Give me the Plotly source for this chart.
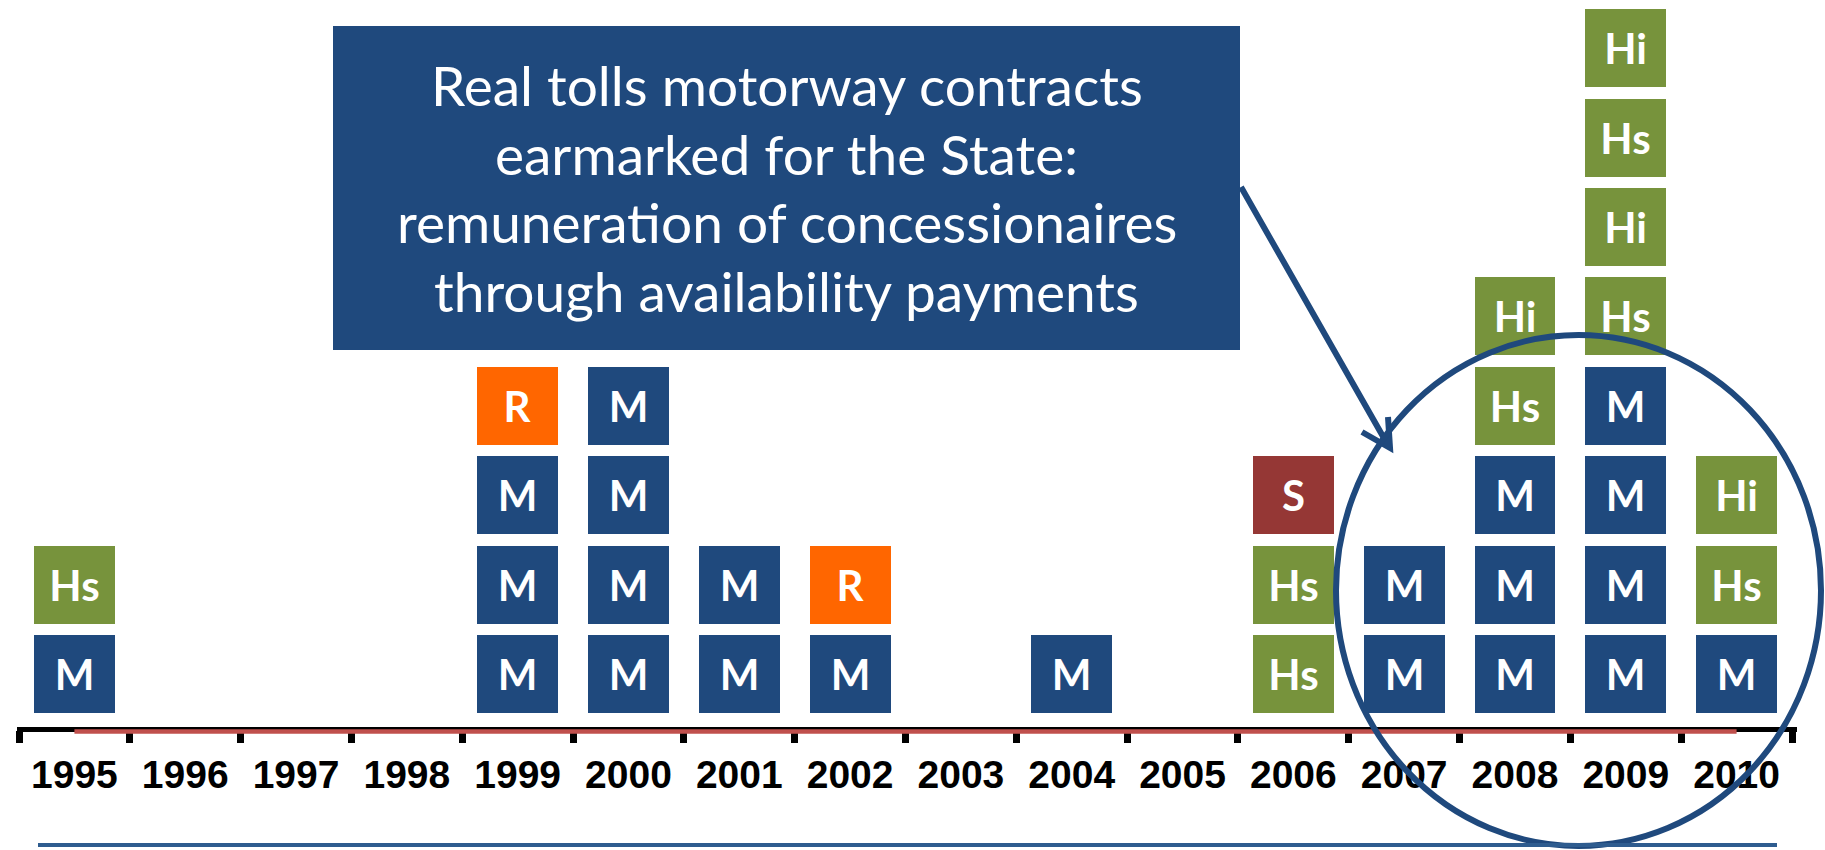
import plotly.graph_objects as go

# ---------------- data ----------------
years = ["1995", "1996", "1997", "1998", "1999", "2000", "2001", "2002",
         "2003", "2004", "2005", "2006", "2007", "2008", "2009", "2010"]

# contracts awarded each year, listed from the bottom of the stack upwards
stack_labels = [
    ["M", "Hs"],                                  # 1995
    [],                                           # 1996
    [],                                           # 1997
    [],                                           # 1998
    ["M", "M", "M", "R"],                         # 1999
    ["M", "M", "M", "M"],                         # 2000
    ["M", "M"],                                   # 2001
    ["M", "R"],                                   # 2002
    [],                                           # 2003
    ["M"],                                        # 2004
    [],                                           # 2005
    ["Hs", "Hs", "S"],                            # 2006
    ["M", "M"],                                   # 2007
    ["M", "M", "M", "Hs", "Hi"],                  # 2008
    ["M", "M", "M", "M", "Hs", "Hi", "Hs", "Hi"], # 2009
    ["M", "Hs", "Hi"],                            # 2010
]

contract_types = ["M", "Hs", "Hi", "R", "S"]
type_colors = ["#1F497D", "#77933C", "#77933C", "#FF6600", "#953735"]

callout_lines = ["Real tolls motorway contracts",
                 "earmarked for the State:",
                 "remuneration of concessionaires",
                 "through availability payments"]

# ---------------- layout helpers ----------------
W, H = 1825, 850
ML, MR = 19, 33
AXIS_PX = 730            # pixel row of the time axis
BOX_H = 78               # box height (px)
PITCH = 89.4             # vertical pitch of stacked boxes (px)
FIRST_BASE = 17          # gap between axis and first box (px)
LINE_PITCH = 68.7        # callout text line spacing (px)
CALLOUT_CY = 188         # callout text vertical centre (px)


def px_x(p):
    return (p - ML) / (W - ML - MR)


def px_y(p):
    return 1 - p / H


fig = go.Figure()

for t, col in zip(contract_types, type_colors):
    xs, bases, hs, txt = [], [], [], []
    for yr, stack in zip(years, stack_labels):
        for lvl, lab in enumerate(stack):
            if lab == t:
                xs.append(yr)
                bases.append(FIRST_BASE + lvl * PITCH)
                hs.append(BOX_H)
                txt.append(lab)
    fig.add_trace(go.Bar(
        x=xs, y=hs, base=bases, width=0.73, name=t,
        marker=dict(color=col, line=dict(width=0)),
        text=txt, textposition="inside", insidetextanchor="middle",
        textangle=0, constraintext="none",
        textfont=dict(family="Lato", size=42, color="white", weight="bold"),
        hoverinfo="skip", showlegend=False,
    ))

# red timeline from first to last year, drawn as a trace on top of the axis
fig.add_trace(go.Scatter(
    x=[years[0], years[-1]], y=[-1.5, -1.5], mode="lines",
    line=dict(color="#C0504D", width=4.5), cliponaxis=False,
    hoverinfo="skip", showlegend=False,
))

shapes = []
# black time axis (extends a little past the plot edges), below traces
shapes.append(dict(type="line", xref="paper", yref="paper",
                   x0=px_x(17), x1=px_x(1797), y0=px_y(729.5), y1=px_y(729.5),
                   line=dict(color="black", width=5), layer="below"))
# callout box
shapes.append(dict(type="rect", xref="paper", yref="paper",
                   x0=px_x(333), x1=px_x(1240), y0=px_y(350), y1=px_y(26),
                   fillcolor="#1F497D", line=dict(width=0), layer="below"))
# arrow
arrow_pts = [(1241, 187), (1389, 447)]
head_pts = [(1388, 417), (1390, 448), (1362, 432)]
path = "M {:.5f},{:.5f} L {:.5f},{:.5f}".format(px_x(arrow_pts[0][0]), px_y(arrow_pts[0][1]),
                                                  px_x(arrow_pts[1][0]), px_y(arrow_pts[1][1]))
path += " M {:.5f},{:.5f} L {:.5f},{:.5f} L {:.5f},{:.5f}".format(
    px_x(head_pts[0][0]), px_y(head_pts[0][1]),
    px_x(head_pts[1][0]), px_y(head_pts[1][1]),
    px_x(head_pts[2][0]), px_y(head_pts[2][1]))
shapes.append(dict(type="path", xref="paper", yref="paper", path=path,
                   line=dict(color="#1F497D", width=6), layer="above"))
# ellipse
shapes.append(dict(type="circle", xref="paper", yref="paper",
                   x0=px_x(1336), x1=px_x(1821), y0=px_y(846), y1=px_y(335),
                   line=dict(color="#1F497D", width=6), layer="above"))
# bottom rule
shapes.append(dict(type="line", xref="paper", yref="paper",
                   x0=px_x(38), x1=px_x(1777), y0=px_y(845), y1=px_y(845),
                   line=dict(color="#2E5C8F", width=4), layer="above"))

n_lines = len(callout_lines)
for i, line in enumerate(callout_lines):
    fig.add_annotation(
        xref="paper", yref="paper", x=px_x(786.5),
        y=px_y(CALLOUT_CY + (i - (n_lines - 1) / 2) * LINE_PITCH),
        text=line, showarrow=False,
        font=dict(family="Lato", size=55, color="white"), align="center",
        xanchor="center", yanchor="middle",
    )

fig.update_layout(
    width=W, height=H,
    margin=dict(l=ML, r=MR, t=0, b=0, pad=0),
    paper_bgcolor="white", plot_bgcolor="white",
    barmode="overlay", bargap=0,
    shapes=shapes,
    xaxis=dict(type="category", categoryorder="array", categoryarray=years,
               range=[-0.5, len(years) - 0.5],
               anchor="free", position=1 - AXIS_PX / H,
               showline=False,
               ticks="outside", tickson="boundaries", ticklen=12, tickwidth=7,
               tickcolor="black", showgrid=False, zeroline=False,
               ticklabelstandoff=18,
               tickfont=dict(family="Liberation Sans", size=39, color="black", weight="bold"),
               layer="below traces", fixedrange=True),
    yaxis=dict(range=[AXIS_PX - H, AXIS_PX], visible=False, fixedrange=True),
)

fig.write_html("out.html", config={"displayModeBar": False},
               post_script="document.body.style.margin='0';document.body.style.overflow='hidden';")
